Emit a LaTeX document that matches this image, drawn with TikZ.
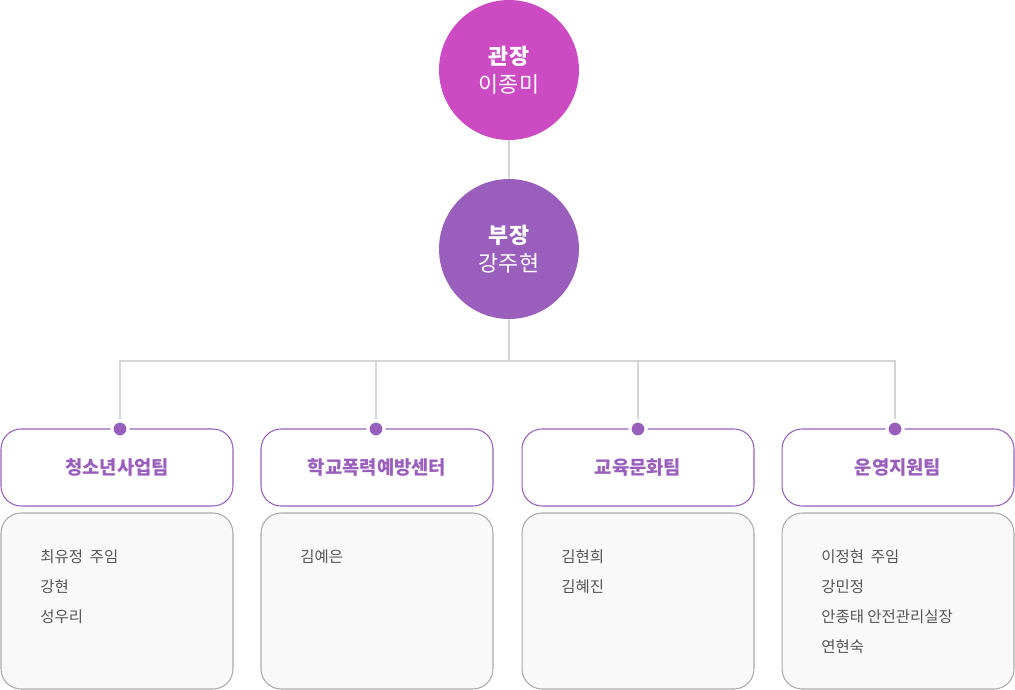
\documentclass[tikz,border=0pt]{standalone}
\usepackage{fontspec}
\setmainfont{Noto Sans CJK KR}
\definecolor{magenta1}{HTML}{CC4BC2}
\definecolor{violet1}{HTML}{9A5FBD}
\definecolor{line1}{HTML}{D5D5D5}
\definecolor{gray1}{HTML}{AAAAAA}
\definecolor{gray2}{HTML}{F9F9F9}
\definecolor{text1}{HTML}{555555}
\begin{document}
\begin{tikzpicture}[x=0.02cm,y=-0.02cm,
		head/.style = {circle,minimum size=2.8cm,inner sep=0,align=center,text=white,font=\fontsize{12.4}{15.9}\selectfont},
		team/.style = {draw=violet1,fill=white,rounded corners=0.4cm,minimum width=4.64cm,minimum height=1.54cm,line width=0.6pt,text=violet1,font=\fontsize{10.7}{12}\selectfont\bfseries},
		crew/.style = {draw=gray1,fill=gray2,rounded corners=0.4cm,minimum width=4.64cm,minimum height=3.52cm,line width=0.6pt},
		member/.style = {anchor=west,text=text1,font=\fontsize{8.8}{10}\selectfont,inner sep=0},
		dot/.style = {circle,fill=violet1,draw=white,line width=1.8pt,minimum size=0.324cm,inner sep=0},
		wire/.style = {draw=line1,line width=0.6pt}
		]
		\useasboundingbox (0,0) rectangle (1015,690);
		%VERTICE
		\node[head,fill=magenta1] (@gj) at (509,70) {\textbf{관장}\\이종미};
		\node[head,fill=violet1] (@bj) at (509,249) {\textbf{부장}\\강주현};
		\coordinate (@bus) at (509,361);
		%SQUADRE
		\node[team] (@t1) at (117,467.5) {청소년사업팀};
		\node[team] (@t2) at (377,467.5) {학교폭력예방센터};
		\node[team] (@t3) at (638,467.5) {교육문화팀};
		\node[team] (@t4) at (898,467.5) {운영지원팀};
		\node[crew] (@c1) at (117,601) {};
		\node[crew] (@c2) at (377,601) {};
		\node[crew] (@c3) at (638,601) {};
		\node[crew] (@c4) at (898,601) {};
		%NOMI
		\node[member] (@m11) at (40,557) {최유정\ \ 주임};
		\node[member] (@m12) at (40,587) {강현};
		\node[member] (@m13) at (40,617) {성우리};
		\node[member] (@m21) at (300,557) {김예은};
		\node[member] (@m31) at (561,557) {김현희};
		\node[member] (@m32) at (561,587) {김혜진};
		\node[member] (@m41) at (821,557) {이정현\ \ 주임};
		\node[member] (@m42) at (821,587) {강민정};
		\node[member] (@m43) at (821,617) {안종태 안전관리실장};
		\node[member] (@m44) at (821,647) {연현숙};
		%PUNTI
		\node[dot] (@d1) at (120,429) {};
		\node[dot] (@d2) at (376,429) {};
		\node[dot] (@d3) at (638,429) {};
		\node[dot] (@d4) at (895,429) {};
		%LINEE
		\draw[wire] (@gj) -- (@bj);
		\draw[wire] (@bj) -- (@bus);
		\draw[wire] (@d1) |- (@bus);
		\draw[wire] (@d2) |- (@bus);
		\draw[wire] (@d3) |- (@bus);
		\draw[wire] (@d4) |- (@bus);
	\end{tikzpicture}
\end{document}
